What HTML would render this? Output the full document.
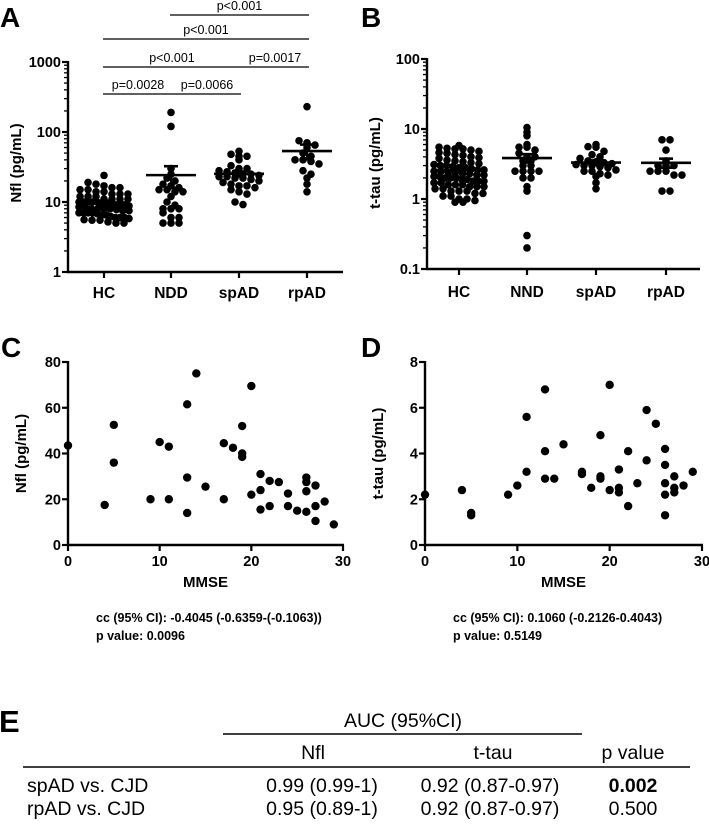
<!DOCTYPE html>
<html><head><meta charset="utf-8"><style>
body{margin:0;background:#fff;}
svg{display:block;font-family:"Liberation Sans",Arial,sans-serif;}
</style></head><body>
<svg id="fig" width="709" height="828" viewBox="0 0 709 828" xmlns="http://www.w3.org/2000/svg"></svg>
<script>
// ---------- DATA ----------
const catsA = ["HC","NDD","spAD","rpAD"];
const nflHC = [24,19,18,17,16,16,15,15,14,14,13,13,13,12,12,12,11,11,11,11,10,10,10,10,10,9.5,9.5,9,9,9,9,8.8,8.5,8.5,8,8,8,8,7.8,7.5,7.5,7,7,7,7,6.8,6.5,6.5,6.2,6,6,6,5.8,5.6,5.5,5.5,5.2,5,5];
const nflNDD = [190,120,30,25,22,20,18,17,16,15,15,14,14,12,10,9,8,8,8,7,6,6,5,5,5];
const nflSpAD = [53,48,45,45,40,33,30,30,28,27,26,25,25,24,23,23,22,22,21,20,19,18,17,17,16,15,14,13,10,9.2];
const nflRpAD = [230,75,70,65,60,50,45,40,40,38,35,28,25,22,18,14];
const catsB = ["HC","NND","spAD","rpAD"];
const tauHC = [5.8,5.5,5.3,5.2,5.2,5.0,4.8,4.6,4.5,4.3,4.2,4.0,3.9,3.8,3.6,3.5,3.4,3.3,3.2,3.1,3.0,3.0,2.9,2.8,2.8,2.7,2.6,2.6,2.5,2.5,2.4,2.4,2.3,2.3,2.2,2.2,2.1,2.1,2.0,2.0,2.0,1.9,1.9,1.8,1.8,1.8,1.7,1.7,1.6,1.6,1.6,1.5,1.5,1.5,1.4,1.4,1.3,1.3,1.3,1.2,1.2,1.1,1.1,1.0,1.0,0.95,0.9,0.9];
const tauNND = [10.5,9,8,6,5.5,5.5,5,4.5,4,4,3.5,3.5,3,3,2.5,2.5,2.5,2.5,2,2,1.5,1.3,0.3,0.2];
const tauSpAD = [6,5.6,5.5,4.8,4.3,4,3.8,3.5,3.4,3.3,3.2,3.1,3,3,2.9,2.8,2.6,2.5,2.5,2.3,2.2,2.1,1.7,1.4];
const tauRpAD = [7,7,5,3.5,3,3,3,2.5,2.5,2.5,2.2,2.2,1.3,1.3];
const mmseC = [0,4,5,5,9,10,11,11,13,13,13,14,15,17,17,18,19,19,19,20,20,21,21,21,22,22,23,24,24,25,26,26,26,26,27,27,27,28,29];
const nflC  = [43.5,17.5,52.5,36,20,45,43,20,61.5,29.5,14,75,25.5,44.5,20,42.5,52,40,38.5,69.5,22,31,24,15.5,28,17,27.5,22.5,17,15,29.5,27.5,23.5,14.5,26,17,10.5,19,9];
const mmseD = [0,4,5,5,9,10,11,11,13,13,13,14,15,17,17,18,19,19,19,20,20,21,21,21,22,22,23,24,24,25,26,26,26,26,26,27,27,27,28,29];
const tauD  = [2.2,2.4,1.4,1.3,2.2,2.6,5.6,3.2,6.8,4.1,2.9,2.9,4.4,3.2,3.1,2.5,4.8,3.0,2.9,7.0,2.4,3.3,2.5,2.3,4.1,1.7,2.7,5.9,3.7,5.3,4.2,3.5,2.7,2.2,1.3,3.0,2.5,2.3,2.6,3.2];
const ticksA = ["1","10","100","1000"];
const ticksB = ["0.1","1","10","100"];
const ticksC = ["0","20","40","60","80"];
const ticksD = ["0","2","4","6","8"];
const ticksX = ["0","10","20","30"];
const brackets = [
 {a:1,b:3,label:"p<0.001",lvl:0},
 {a:0,b:3,label:"p<0.001",lvl:1},
 {a:0,b:2,label:"p<0.001",lvl:2},
 {a:2,b:3,label:"p=0.0017",lvl:2},
 {a:0,b:1,label:"p=0.0028",lvl:3},
 {a:1,b:2,label:"p=0.0066",lvl:3}];

// ---------- HELPERS ----------
const NS="http://www.w3.org/2000/svg";
const svg=document.getElementById('fig');
function mk(tag,attrs,parent,txt){const e=document.createElementNS(NS,tag);for(const k in attrs)e.setAttribute(k,attrs[k]);if(txt!==undefined)e.textContent=txt;(parent||svg).appendChild(e);return e;}
function grp(name){const g=mk('g',{});return g;}
function line(g,x1,y1,x2,y2,w){return mk('line',{x1,y1,x2,y2,stroke:'#000','stroke-width':w||2},g);}
function txt(g,x,y,s,size,anchor,extra){return mk('text',Object.assign({x,y,'font-size':size,'text-anchor':anchor||'middle','font-weight':'bold'},extra||{}),g,s);}

function logAxis(g,x0,yFn,minE,maxE,labels,xEnd,title,titleY){
  line(g,x0,yFn(Math.pow(10,minE))+1,x0,yFn(Math.pow(10,maxE))-1,2.4);
  line(g,x0-1,yFn(Math.pow(10,minE)),xEnd,yFn(Math.pow(10,minE)),2.4);
  for(let e=minE;e<=maxE;e++){
    const y=yFn(Math.pow(10,e));
    line(g,x0-6,y,x0,y,2.2);
    const t=txt(g,x0-7,y+5,labels[e-minE],14.5,'end');
    
    if(e<maxE)for(let m=2;m<=9;m++){const ym=yFn(m*Math.pow(10,e));line(g,x0-4,ym,x0,ym,1.3);}
  }
  const tt=txt(g,0,0,title,15,'middle',{transform:`translate(${x0-47},${titleY}) rotate(-90)`});
  
}
function swarm(vals,cx,yFn,r,maxHalf){
  const bin=2*r*0.8;const bins={};
  vals.forEach(v=>{const y=yFn(v);const k=Math.floor(y/bin);(bins[k]=bins[k]||[]).push(y);});
  const out=[];
  for(const k in bins){const ys=bins[k];const n=ys.length;
    const sp=n>1?Math.min(2*r*1.05,2*maxHalf/(n-1)):0;
    ys.forEach((y,i)=>out.push([cx+(i-(n-1)/2)*sp,y]));}
  return out;
}
function dotPlot(g,groups,cxs,yFn,r,name){
  groups.forEach((vals,i)=>{
    swarm(vals,cxs[i],yFn,r,25).forEach(p=>{const c=mk('circle',{cx:p[0],cy:p[1],r,fill:'#000'},g);
      });
    const n=vals.length,m=vals.reduce((a,b)=>a+b,0)/n;
    const sd=Math.sqrt(vals.reduce((a,b)=>a+(b-m)**2,0)/(n-1)),se=sd/Math.sqrt(n);
    const cx=cxs[i];
    const ml=line(g,cx-25,yFn(m),cx+25,yFn(m),2.6);
    line(g,cx,yFn(m+se),cx,yFn(Math.max(m-se,0.01)),2.2);
    line(g,cx-7,yFn(m+se),cx+7,yFn(m+se),2.6);
    line(g,cx-7,yFn(Math.max(m-se,0.01)),cx+7,yFn(Math.max(m-se,0.01)),2.6);
  });
}

// ---------- PANEL A ----------
{const g=grp('panel-a');
 txt(g,0,27,"A",28,'start');
 const yA=v=>272-70*Math.log10(v);
 logAxis(g,68,yA,0,3,ticksA,343,"Nfl (pg/mL)",163);
 const cx=[104,171,239,307];
 catsA.forEach((c,i)=>{line(g,cx[i],272,cx[i],278,2.2);const t=txt(g,cx[i],298,c,15.5);});
 dotPlot(g,[nflHC,nflNDD,nflSpAD,nflRpAD],cx,yA,3.8,'nfl');
 const lvlY=[15,39,67,94];
 brackets.forEach(b=>{const y=lvlY[b.lvl];
  let x1=cx[b.a]-1,x2=cx[b.b]+2;
  if(b.lvl>=2&&b.a>0)x1+=3; if(b.lvl>=2&&b.b<3)x2-=0;
  const l=line(g,x1,y,x2,y,1.3);
  
  const t=mk('text',{x:(x1+x2)/2,y:y-5,'font-size':12.5,'text-anchor':'middle'},g,b.label);
  });
}
// ---------- PANEL B ----------
{const g=grp('panel-b');
 txt(g,361,27,"B",28,'start');
 const yB=v=>199-70*Math.log10(v);
 logAxis(g,427,yB,-1,2,ticksB,700,"t-tau (pg/mL)",163);
 const cx=[459,527,596,666];
 catsB.forEach((c,i)=>{line(g,cx[i],269,cx[i],275,2.2);const t=txt(g,cx[i],297,c,15.5);});
 dotPlot(g,[tauHC,tauNND,tauSpAD,tauRpAD],cx,yB,3.8,'tau');
}
// ---------- SCATTERS ----------
function scatter(name,letter,lx,x0,x1,ymax,ticks,xs,ys,title,cc,pv){
  const g=grp(name);
  txt(g,lx,357,letter,28,'start');
  const y0=545,yT=362;
  const X=v=>x0+(x1-x0)*v/30, Y=v=>y0-(y0-yT)*v/ymax;
  line(g,x0,y0+1,x0,yT-1,2.4);line(g,x0-1,y0,x1+1,y0,2.4);
  ticks.forEach((t,i)=>{const v=ymax*i/(ticks.length-1);line(g,x0-6,Y(v),x0,Y(v),2.2);
    const e=txt(g,x0-7,Y(v)+5,t,14.5,'end');});
  ticksX.forEach((t,i)=>{const v=i*10;line(g,X(v),y0,X(v),y0+6,2.2);
    const e=txt(g,X(v),y0+21,t,14.5);});
  const xt=txt(g,(x0+x1)/2,587,"MMSE",15);
  const yt=txt(g,0,0,title,15,'middle',{transform:`translate(${x0-42},${(y0+yT)/2}) rotate(-90)`});
  
  xs.forEach((v,i)=>{const c=mk('circle',{cx:X(v),cy:Y(ys[i]),r:4.2,fill:'#000'},g);
    });
  const a=txt(g,x0+28,622,cc,12.5,'start');
  const b=txt(g,x0+28,640,pv,12.5,'start');
}
scatter('panel-c',"C",1,68,343,80,ticksC,mmseC,nflC,"Nfl (pg/mL)","cc (95% CI): -0.4045 (-0.6359-(-0.1063))","p value: 0.0096");
scatter('panel-d',"D",361,425,702,8,ticksD,mmseD,tauD,"t-tau (pg/mL)","cc (95% CI): 0.1060 (-0.2126-0.4043)","p value: 0.5149");
</script>
<svg style="position:absolute;left:0;top:0" width="709" height="828" xmlns="http://www.w3.org/2000/svg" font-family="'Liberation Sans',sans-serif" font-size="19.5">
<text x="-1" y="732" font-weight="bold" font-size="31">E</text>
<text x="403" y="727" text-anchor="middle">AUC (95%CI)</text>
<line x1="223" y1="734" x2="582" y2="734" stroke="#000" stroke-width="1.5"/>
<text x="313" y="759" text-anchor="middle">Nfl</text>
<text x="493" y="759" text-anchor="middle">t-tau</text>
<text x="633" y="759" text-anchor="middle">p value</text>
<line x1="23" y1="767" x2="690" y2="767" stroke="#000" stroke-width="1.5"/>
<g>
<text x="27" y="792">spAD vs. CJD</text>
<text x="322" y="792" text-anchor="middle">0.99 (0.99-1)</text>
<text x="490" y="792" text-anchor="middle">0.92 (0.87-0.97)</text>
<text x="633" y="792" text-anchor="middle" font-weight="bold">0.002</text></g>
<g>
<text x="27" y="815">rpAD vs. CJD</text>
<text x="322" y="815" text-anchor="middle">0.95 (0.89-1)</text>
<text x="490" y="815" text-anchor="middle">0.92 (0.87-0.97)</text>
<text x="633" y="815" text-anchor="middle">0.500</text></g>
</svg>
</body></html>
